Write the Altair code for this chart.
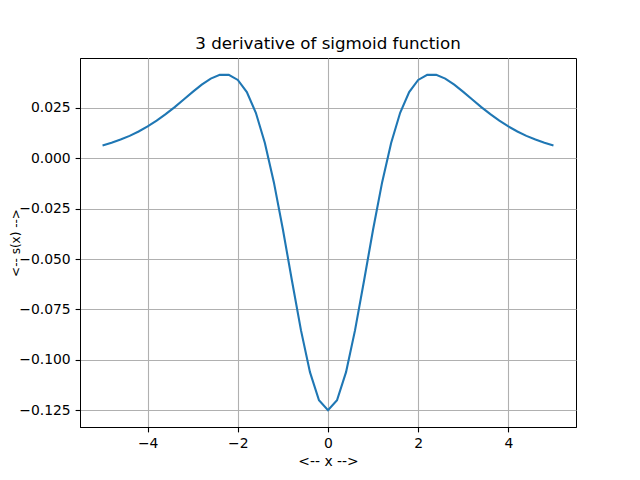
import altair as alt
import pandas as pd

x_pos = [0.0, 0.2, 0.4, 0.6, 0.8, 1.0, 1.2, 1.4, 1.6, 1.8, 2.0, 2.2, 2.4, 2.6,
         2.8, 3.0, 3.2, 3.4, 3.6, 3.8, 4.0, 4.2, 4.4, 4.6, 4.8, 5.0]
y_pos = [-0.125, -0.120071, -0.106091, -0.085269, -0.060635, -0.035325,
         -0.011984, 0.007600, 0.022560, 0.032821, 0.038852, 0.041416,
         0.041366, 0.039506, 0.036517, 0.032931, 0.029135, 0.025393,
         0.021868, 0.018654, 0.015791, 0.013285, 0.011120, 0.009270,
         0.007703, 0.006383]

xs = [-v for v in reversed(x_pos[1:])] + x_pos
ys = list(reversed(y_pos[1:])) + y_pos
df = pd.DataFrame({"x": xs, "y": ys})

font = "DejaVu Sans"

chart = alt.Chart(df).mark_line(color="#1f77b4", strokeWidth=2.1).encode(
    x=alt.X("x:Q", scale=alt.Scale(domain=[-5.5, 5.5], nice=False, zero=False),
            axis=alt.Axis(values=[-4, -2, 0, 2, 4], format="d", title="<-- x -->")),
    y=alt.Y("y:Q", scale=alt.Scale(domain=[-0.13332, 0.04974], nice=False, zero=False),
            axis=alt.Axis(values=[-0.125, -0.1, -0.075, -0.05, -0.025, 0.0, 0.025],
                          format=".3f", title="<-- s(x) -->",
                          titleX=-65, titleY=184.5, titleAngle=-90,
                          titleAlign="center", titleBaseline="middle",
                          titleFontSize=12)),
).properties(
    width=496, height=369,
    title=alt.TitleParams("3 derivative of sigmoid function", fontSize=16.7,
                          font=font, fontWeight="normal", offset=5, color="black"),
    autosize=alt.AutoSizeParams(type="none"),
    padding={"left": 72, "top": 50, "right": 56, "bottom": 45},
).configure_view(
    stroke="black", strokeWidth=1
).configure_axis(
    grid=True, gridColor="#b0b0b0", gridWidth=1.1,
    domainColor="black", domainWidth=1,
    tickColor="black", tickSize=4.9, tickWidth=1.1,
    labelFont=font, labelFontSize=13.9, labelColor="black", labelPadding=4.9,
    titleFont=font, titleFontSize=13.9, titleFontWeight="normal", titleColor="black",
).configure_axisX(titlePadding=4)

chart.save("out.html", embed_options={"renderer": "svg", "actions": False})
